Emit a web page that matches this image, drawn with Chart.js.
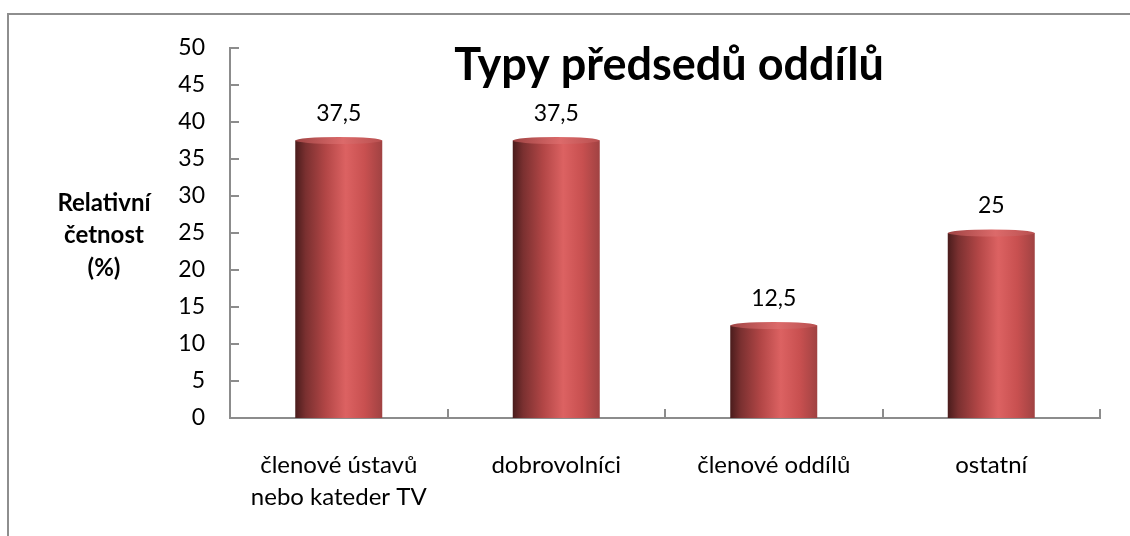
<!DOCTYPE html>
<html>
<head>
<meta charset="utf-8">
<script src="https://cdn.jsdelivr.net/npm/chart.js@4.4.1/dist/chart.umd.min.js"></script>
<style>
  html, body { margin: 0; padding: 0; background: #ffffff; overflow: hidden; width: 1130px; height: 536px; }
  #wrap { position: relative; width: 1130px; height: 536px; overflow: hidden; }
  #frame { position: absolute; left: 7px; top: 13px; width: 1123px; height: 523px; border-left: 2px solid #8e8e8e; border-top: 2px solid #8e8e8e; box-sizing: border-box; }
  canvas { position: absolute; left: 0; top: 0; }
</style>
</head>
<body>
<div id="wrap">
  <div id="frame"></div>
  <canvas id="c" width="1130" height="536"></canvas>
</div>
<script>
const chartTitle = 'Typy předsedů oddílů';
const yAxisTitle = ['Relativní', 'četnost', '(%)'];
const categories = [['členové ústavů', 'nebo kateder TV'], 'dobrovolníci', 'členové oddílů', 'ostatní'];
const values = [37.5, 37.5, 12.5, 25];
const yTicks = [0, 5, 10, 15, 20, 25, 30, 35, 40, 45, 50];

const FONT = 'Lato, "Noto Sans", sans-serif';
const AXIS_COLOR = '#8c8c8c';
const BAR_PCT = 0.4;

function barGradient(ctx, left, right) {
  const g = ctx.createLinearGradient(left, 0, right, 0);
  g.addColorStop(0.00, '#4a1c1c');
  g.addColorStop(0.12, '#7a3030');
  g.addColorStop(0.35, '#b24646');
  g.addColorStop(0.58, '#dc6262');
  g.addColorStop(0.80, '#c85050');
  g.addColorStop(1.00, '#a04242');
  return g;
}

const decorPlugin = {
  id: 'decor',
  afterDatasetsDraw(chart) {
    const ctx = chart.ctx;
    const meta = chart.getDatasetMeta(0);
    meta.data.forEach((el, i) => {
      const p = el.getProps(['x', 'y', 'width'], true);
      const left = p.x - p.width / 2, right = p.x + p.width / 2;
      ctx.save();
      ctx.beginPath();
      ctx.ellipse(p.x, p.y, p.width / 2, 3.5, 0, 0, Math.PI * 2);
      const g = ctx.createLinearGradient(left, 0, right, 0);
      g.addColorStop(0, '#a04444');
      g.addColorStop(0.55, '#dc6a6a');
      g.addColorStop(1, '#b85050');
      ctx.fillStyle = g;
      ctx.fill();
      ctx.restore();
      ctx.save();
      ctx.font = '23px ' + FONT;
      ctx.fillStyle = '#000';
      ctx.textAlign = 'center';
      ctx.textBaseline = 'middle';
      ctx.fillText(String(values[i]).replace('.', ','), p.x, p.y - 27);
      ctx.restore();
    });
  },
  afterDraw(chart) {
    const ctx = chart.ctx;
    const ca = chart.chartArea;
    const ys = chart.scales.y;
    ctx.save();
    ctx.strokeStyle = AXIS_COLOR;
    ctx.lineWidth = 2;
    yTicks.forEach(v => {
      const y = Math.round(ys.getPixelForValue(v));
      ctx.beginPath();
      ctx.moveTo(ca.left, y);
      ctx.lineTo(ca.left + 9, y);
      ctx.stroke();
    });
    const step = (ca.right - ca.left) / categories.length;
    for (let k = 1; k <= categories.length; k++) {
      const x = Math.round(ca.left + k * step);
      ctx.beginPath();
      ctx.moveTo(x, ca.bottom);
      ctx.lineTo(x, ca.bottom - 9);
      ctx.stroke();
    }
    ctx.restore();
    ctx.save();
    ctx.font = 'bold 45px ' + FONT;
    ctx.fillStyle = '#000';
    ctx.textAlign = 'center';
    ctx.textBaseline = 'alphabetic';
    ctx.fillText(chartTitle, 669, 80);
    ctx.restore();
    ctx.save();
    ctx.font = 'bold 24px ' + FONT;
    ctx.fillStyle = '#000';
    ctx.textAlign = 'center';
    ctx.textBaseline = 'middle';
    yAxisTitle.forEach((t, i) => ctx.fillText(t, 104, 203 + i * 32.5));
    ctx.restore();
  }
};

new Chart(document.getElementById('c'), {
  type: 'bar',
  data: {
    labels: categories,
    datasets: [{
      data: values,
      barPercentage: BAR_PCT,
      categoryPercentage: 1,
      borderWidth: 0,
      backgroundColor: (c) => {
        const chart = c.chart;
        const xs = chart.scales.x;
        if (!xs || !chart.chartArea) return '#c05050';
        const cx = xs.getPixelForValue(c.dataIndex);
        const w = (xs.width / categories.length) * BAR_PCT;
        return barGradient(chart.ctx, cx - w / 2, cx + w / 2);
      }
    }]
  },
  options: {
    responsive: false,
    animation: false,
    devicePixelRatio: 1,
    layout: { padding: { top: 48, right: 30, left: 0, bottom: 0 } },
    plugins: { legend: { display: false }, tooltip: { enabled: false }, title: { display: false } },
    scales: {
      x: {
        grid: { display: false, drawTicks: false },
        border: { display: true, color: AXIS_COLOR, width: 2 },
        ticks: { color: '#000', font: { family: FONT, size: 24, lineHeight: 1.35 }, padding: 31, maxRotation: 0, autoSkip: false },
        afterFit(s) { s.height = 118; }
      },
      y: {
        min: 0, max: 50,
        grid: { display: false, drawTicks: false },
        border: { display: true, color: AXIS_COLOR, width: 2 },
        ticks: { stepSize: 5, color: '#000', font: { family: FONT, size: 23 }, padding: 25 },
        afterFit(s) { s.width = 230; }
      }
    }
  },
  plugins: [decorPlugin]
});
</script>
</body>
</html>
